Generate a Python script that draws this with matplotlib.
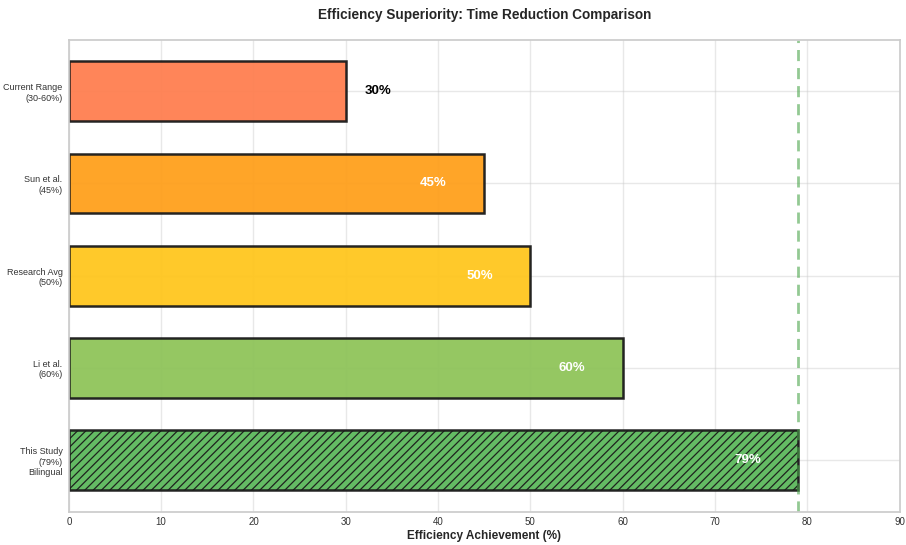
import matplotlib
matplotlib.use("Agg")
import matplotlib.pyplot as plt
import seaborn as sns

sns.set_theme(style="whitegrid")
plt.rcParams['font.family'] = ['Liberation Sans', 'DejaVu Sans']
plt.rcParams['hatch.linewidth'] = 0.9

labels = ["Current Range\n(30-60%)", "Sun et al.\n(45%)", "Research Avg\n(50%)",
          "Li et al.\n(60%)", "This Study\n(79%)\nBilingual"]
values = [30, 45, 50, 60, 79]
colors = ["#FF7F50", "#FFA01C", "#FFC61E", "#8FC45A", "#5CB85C"]
target = 79

fig = plt.figure(figsize=(9.06, 5.45), dpi=100)
ax = fig.add_axes([0.076, 0.061, 0.917, 0.866])

pos = list(range(len(values)))
bars = ax.barh(pos, values, height=0.65, color=colors, edgecolor="#1a1a1a",
               linewidth=1.8, alpha=0.95)
bars[-1].set_hatch("////")

ax.axvline(target, color="#4CA64C", linestyle=(0, (4, 2.5)), linewidth=2, alpha=0.6)

for p, v in zip(pos, values):
    if v < 35:
        ax.text(v + 2, p, f"{v}%", ha="left", va="center", fontsize=9.5,
                fontweight="bold", color="black")
    else:
        ax.text(v - 5.5, p, f"{v}%", ha="center", va="center", fontsize=9.5,
                fontweight="bold", color="white")

ax.set_yticks(pos)
ax.set_yticklabels(labels, fontsize=6.5, color="#333333")
ax.invert_yaxis()
ax.set_xlim(0, 90)
ax.tick_params(axis="x", labelsize=7, pad=4, length=0, labelcolor="#333333")
ax.tick_params(axis="y", pad=4.5, length=0)
ax.set_xlabel("Efficiency Achievement (%)", fontsize=8.5, fontweight="bold", labelpad=2)
ax.set_title("Efficiency Superiority: Time Reduction Comparison", fontsize=9.8,
             fontweight="bold", pad=15)
ax.grid(True, alpha=0.45)
for s in ax.spines.values():
    s.set_color("#cccccc")

fig.savefig("out.png", dpi=100)
